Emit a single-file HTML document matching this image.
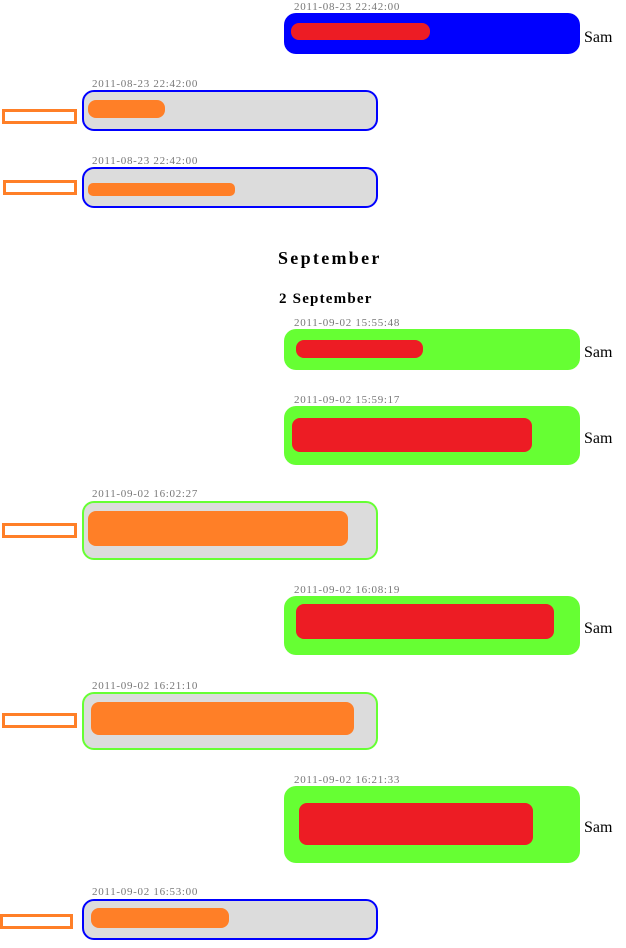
<!DOCTYPE html>
<html><head><style>
body{margin:0;width:626px;height:948px;background:#fff;position:relative;overflow:hidden;font-family:"Liberation Serif",serif}
div{position:absolute;box-sizing:border-box}
.ts{font-size:11px;color:#777;line-height:12px;letter-spacing:0.7px}
.r{left:284px;width:296px;border-radius:12px}
.l{left:82px;width:296px;border-radius:12px;background:#dcdcdc;border:2px solid #0000ff}
.g{border-color:#66ff33}
.red{background:#ed1c24;border-radius:8px}
.or{background:#ff7f27;border-radius:8px}
.box{border:3px solid #ff7f27;background:#fff;height:15px}
.sam{left:584px;font-size:16px;line-height:16px}
</style></head><body>
<div class="ts" style="left:294px;top:1px">2011-08-23 22:42:00</div>
<div class="r" style="top:13px;height:41px;background:#0000ff"></div>
<div class="red" style="left:291px;top:23px;width:139px;height:17px"></div>
<div class="sam" style="top:30px">Sam</div>

<div class="ts" style="left:92px;top:78px">2011-08-23 22:42:00</div>
<div class="l" style="top:90px;height:41px"></div>
<div class="or" style="left:88px;top:100px;width:77px;height:18px"></div>
<div class="box" style="left:2px;top:109px;width:75px"></div>

<div class="ts" style="left:92px;top:155px">2011-08-23 22:42:00</div>
<div class="l" style="top:167px;height:41px"></div>
<div class="or" style="left:88px;top:183px;width:147px;height:13px;border-radius:5px"></div>
<div class="box" style="left:3px;top:180px;width:74px"></div>

<div style="left:278px;top:248px;font-size:18px;font-weight:bold;letter-spacing:2.3px">September</div>
<div style="left:279px;top:291px;font-size:15px;font-weight:bold;letter-spacing:1.2px">2 September</div>

<div class="ts" style="left:294px;top:317px">2011-09-02 15:55:48</div>
<div class="r" style="top:329px;height:41px;background:#66ff33"></div>
<div class="red" style="left:296px;top:340px;width:127px;height:18px"></div>
<div class="sam" style="top:345px">Sam</div>

<div class="ts" style="left:294px;top:394px">2011-09-02 15:59:17</div>
<div class="r" style="top:406px;height:59px;background:#66ff33"></div>
<div class="red" style="left:292px;top:418px;width:240px;height:34px"></div>
<div class="sam" style="top:431px">Sam</div>

<div class="ts" style="left:92px;top:488px">2011-09-02 16:02:27</div>
<div class="l g" style="top:501px;height:59px"></div>
<div class="or" style="left:88px;top:511px;width:260px;height:35px"></div>
<div class="box" style="left:2px;top:523px;width:75px"></div>

<div class="ts" style="left:294px;top:584px">2011-09-02 16:08:19</div>
<div class="r" style="top:596px;height:59px;background:#66ff33"></div>
<div class="red" style="left:296px;top:604px;width:258px;height:35px"></div>
<div class="sam" style="top:621px">Sam</div>

<div class="ts" style="left:92px;top:680px">2011-09-02 16:21:10</div>
<div class="l g" style="top:692px;height:58px"></div>
<div class="or" style="left:91px;top:702px;width:263px;height:33px"></div>
<div class="box" style="left:2px;top:713px;width:75px"></div>

<div class="ts" style="left:294px;top:774px">2011-09-02 16:21:33</div>
<div class="r" style="top:786px;height:77px;background:#66ff33"></div>
<div class="red" style="left:299px;top:803px;width:234px;height:42px"></div>
<div class="sam" style="top:820px">Sam</div>

<div class="ts" style="left:92px;top:886px">2011-09-02 16:53:00</div>
<div class="l" style="top:899px;height:41px"></div>
<div class="or" style="left:91px;top:908px;width:138px;height:20px"></div>
<div class="box" style="left:0px;top:914px;width:73px"></div>
</body></html>
